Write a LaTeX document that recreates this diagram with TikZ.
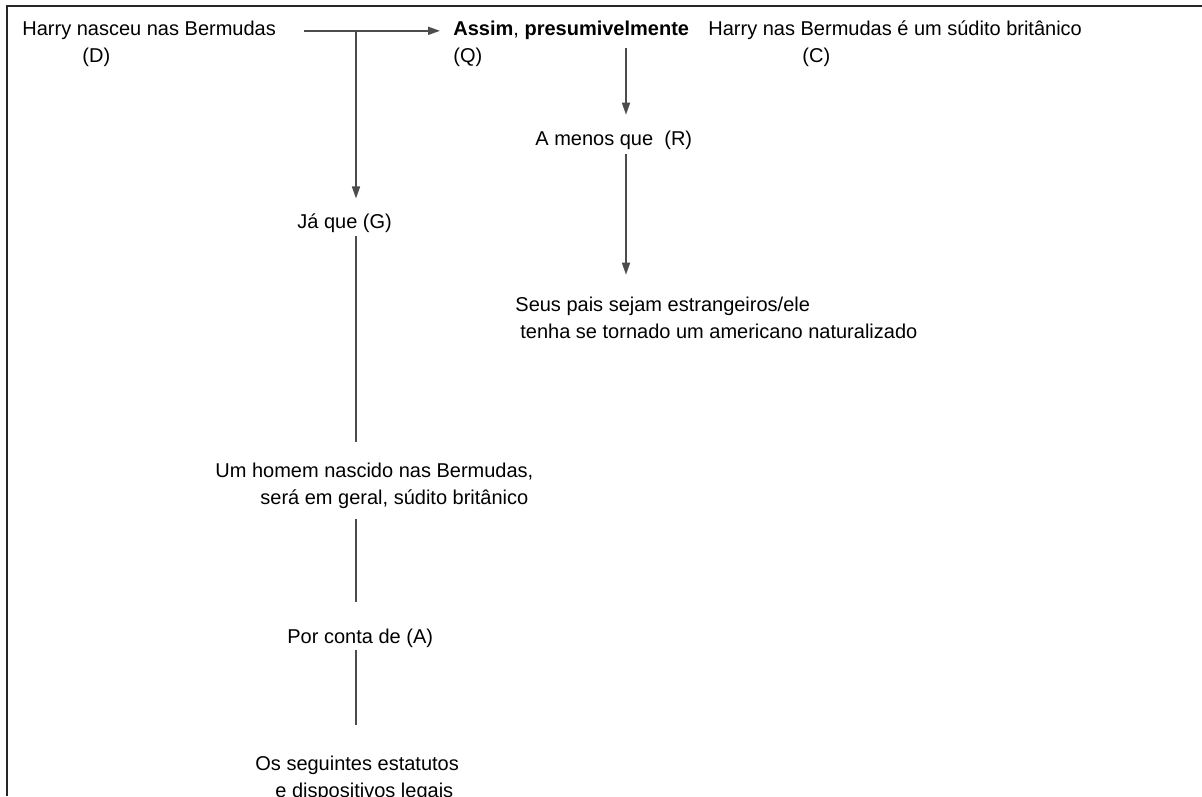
\documentclass[tikz,border=0pt]{standalone}
\usepackage{fontspec}
\setmainfont{Liberation Sans}
\usepackage{tikz}
\usetikzlibrary{shapes,arrows.meta,positioning}
\usetikzlibrary{calc}

\begin{document}
\begin{tikzpicture}
  [
    x=0.5pt, y=-0.5pt,
    font=\fontsize{10}{13.5}\selectfont,
    Txt/.style={anchor=base west, inner sep=0pt, align=left},
    Tag/.style={anchor=base west, inner sep=0pt},
    Wire/.style={draw=black!70, line width=0.8pt},
    Arrow/.style={Wire, -{Triangle[length=6pt, width=4pt]}},
    Frame/.style={draw=black!85, line width=1pt}
  ]
  \useasboundingbox (0, 0) rectangle (1202, 796);

  % Frame
  \draw[Frame] (1202, 6.5) -| (7, 796);

  % Nodes (two-line texts sit on the baseline of their last line)
  \node[Txt] (D) at(22, 36) {Harry nasceu nas Bermudas};
  \node[Tag] (Dtag) at(82, 63) {(D)};

  \node[Txt] (Q) at(453, 36) {\textbf{Assim}, \textbf{presumivelmente}};
  \node[Tag] (Qtag) at(453, 63) {(Q)};

  \node[Txt] (C) at(708, 36) {Harry nas Bermudas é um súdito britânico};
  \node[Tag] (Ctag) at(802, 63) {(C)};

  \node[Txt] (R) at(535, 146) {A menos que\ \ (R)};

  \node[Txt] (S) at(515, 338) {Seus pais sejam estrangeiros/ele\\\hspace*{2.5pt}tenha se tornado um americano naturalizado};

  \node[Txt] (G) at(297, 229) {Já que (G)};

  \node[Txt] (H) at(215, 504) {Um homem nascido nas Bermudas,\\\hspace*{22.5pt}será em geral, súdito britânico};

  \node[Txt] (A) at(287, 643) {Por conta de (A)};

  \node[Txt] (L) at(255, 797) {Os seguintes estatutos\\\hspace*{10pt}e dispositivos legais};

  \coordinate (xj) at(356, 0);
  \coordinate (xk) at(626, 0);
  \coordinate (j) at(D.east -| xj);

  % Lines
  \path [Arrow, shorten <=14pt, shorten >=6.5pt] (D.east) -- (D.east -| Q.west);
  \path [Arrow, shorten >=7.7pt] (j) -- (G.north -| j);
  \path [Wire, shorten <=1.4pt, shorten >=10pt] (G.south -| j) -- (H.north -| j);
  \path [Wire, shorten <=5pt, shorten >=13.2pt] (H.south -| j) -- (A.north -| j);
  \path [Wire, shorten <=1.4pt, shorten >=15pt] (A.south -| j) -- (L.north -| j);

  \path [Arrow, shorten <=3.5pt, shorten >=8.2pt] (Q.south -| xk) -- (R.north -| xk);
  \path [Arrow, shorten <=1.5pt, shorten >=10.7pt] (R.south -| xk) -- (S.north -| xk);

\end{tikzpicture}
\end{document}
